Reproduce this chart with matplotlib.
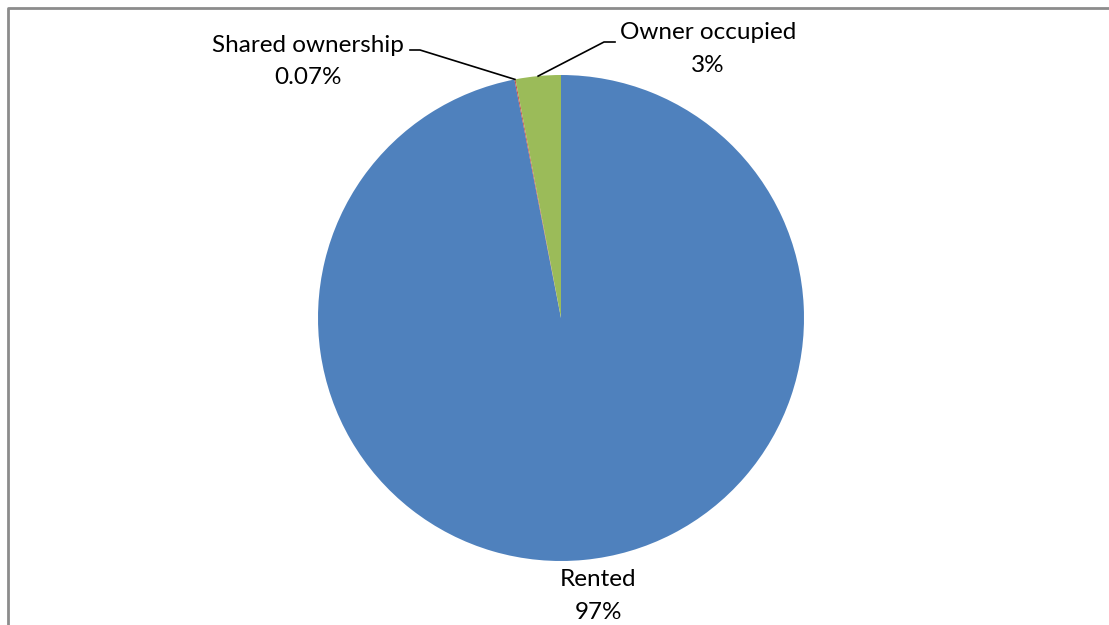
import numpy as np
import matplotlib.pyplot as plt

# Datos
categorias = ['Rented', 'Shared ownership', 'Owner occupied']
valores = [96.93, 0.07, 3.0]
etiquetas_pct = ['97%', '0.07%', '3%']
colores = ['#4F81BD', '#C0504D', '#9BBB59']

plt.rcParams['font.family'] = ['Lato', 'DejaVu Sans']

W, H = 1109, 625
fig = plt.figure(figsize=(W / 100, H / 100), dpi=100)
ax = fig.add_axes([0, 0, 1, 1])

cx, cy, r = 561, H - 318, 243
wedges, _ = ax.pie(valores, colors=colores, startangle=90, counterclock=False,
                   center=(cx, cy), radius=r, frame=True,
                   wedgeprops=dict(linewidth=0))
ax.set_xlim(0, W)
ax.set_ylim(0, H)
ax.set_aspect('equal')
ax.axis('off')

# Marco del gráfico
ax.plot([7.5, 7.5, W], [0, H - 7.5, H - 7.5], color='#8c8c8c', lw=2.0,
        solid_capstyle='butt', clip_on=False)

def punto_medio(w, frac=1.0):
    ang = np.deg2rad((w.theta1 + w.theta2) / 2)
    return cx + r * frac * np.cos(ang), cy + r * frac * np.sin(ang)

fs = 17.5
ls = 1.7
# Rented
ax.text(598, H - 596, f'{categorias[0]}\n{etiquetas_pct[0]}', ha='center',
        va='center', fontsize=fs, linespacing=ls)

# Shared ownership con línea guía
x0, y0 = punto_medio(wedges[1])
ax.plot([x0, 420, 410], [y0, H - 50, H - 50], color='black', lw=1.2)
ax.text(308, H - 61.5, f'{categorias[1]}\n{etiquetas_pct[1]}', ha='center',
        va='center', fontsize=fs, linespacing=ls)

# Owner occupied con línea guía
x0, y0 = punto_medio(wedges[2])
ax.plot([x0, 604, 615], [y0, H - 42, H - 42], color='black', lw=1.2)
ax.text(708, H - 49, f'{categorias[2]}\n{etiquetas_pct[2]}', ha='center',
        va='center', fontsize=fs, linespacing=ls)

fig.savefig('out.png', dpi=100)
